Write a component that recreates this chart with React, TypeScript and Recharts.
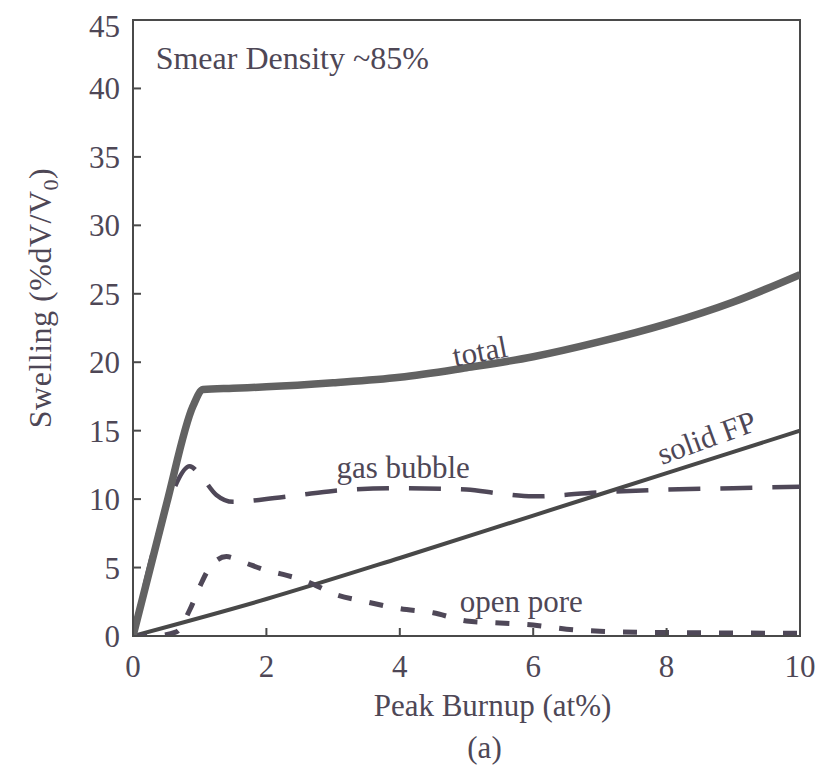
import React from 'react';
import { LineChart, Line, XAxis, YAxis, ReferenceArea, ReferenceDot, Label } from 'recharts';

const xTicks = [0, 2, 4, 6, 8, 10];
const yTicks = [0, 5, 10, 15, 20, 25, 30, 35, 40, 45];

const totalBurnup = [0, 0.5, 0.9, 1.05, 1.5, 2, 3, 4, 5, 6, 7, 8, 9, 10];
const totalSwelling = [0, 9.6, 16.8, 18.0, 18.1, 18.2, 18.5, 18.9, 19.6, 20.4, 21.5, 22.8, 24.4, 26.4];

const gasBurnup = [0, 0.55, 0.85, 1.0, 1.25, 1.5, 2.0, 2.5, 3.0, 4.0, 5.0, 5.5, 6.0, 7.0, 8.0, 9.0, 10.0];
const gasSwelling = [0, 10.0, 12.4, 11.8, 10.3, 9.8, 10.0, 10.3, 10.6, 10.8, 10.7, 10.4, 10.2, 10.5, 10.7, 10.8, 10.9];

const poreBurnup = [0, 0.3, 0.65, 0.85, 1.0, 1.15, 1.4, 1.65, 2.0, 2.25, 2.6, 3.0, 3.5, 4.0, 4.5, 5.0, 5.5, 6.0, 6.5, 7.0, 8.0, 10.0];
const poreSwelling = [0, 0, 0.3, 1.9, 3.6, 5.0, 5.8, 5.4, 4.8, 4.5, 4.0, 3.1, 2.5, 2.0, 1.7, 1.1, 0.95, 0.8, 0.5, 0.35, 0.25, 0.2];

const solidBurnup = [0, 2, 4, 6, 8, 10];
const solidSwelling = [0, 2.7, 5.7, 8.8, 11.9, 15.0];

const toPoints = (xs: number[], ys: number[]) => xs.map((x, i) => ({ x, y: ys[i] }));

const totalData = toPoints(totalBurnup, totalSwelling);
const gasData = toPoints(gasBurnup, gasSwelling);
const poreData = toPoints(poreBurnup, poreSwelling);
const solidData = toPoints(solidBurnup, solidSwelling);

const annotationTexts = ['total', 'gas bubble', 'solid FP', 'open pore', 'Smear Density ~85%'];
const annotationX = [5.2, 4.05, 8.6, 5.82, 0.34];
const annotationY = [20.8, 12.3, 14.5, 2.55, 41.4];
const annotationAngle = [-11, 0, -20, 0, 0];

const FONT = '"Liberation Serif", "Times New Roman", serif';
const TEXT = '#4e4756';
const AXIS = '#4a4a4a';

const YLabel = (props: any) => {
  const vb = props.viewBox || {};
  const cx = (vb.x ?? 0) + 43;
  const cy = (vb.y ?? 0) + (vb.height ?? 0) / 2 - 30;
  return (
    <text
      x={cx}
      y={cy}
      transform={`rotate(-90 ${cx} ${cy})`}
      textAnchor="middle"
      fontFamily={FONT}
      fontSize={32}
      letterSpacing={0.5}
      fill={TEXT}
    >
      Swelling (%dV/V
      <tspan fontSize={22} dy={7}>0</tspan>
      <tspan dy={-7}>)</tspan>
    </text>
  );
};

const XLabel = (props: any) => {
  const vb = props.viewBox || {};
  const cx = (vb.x ?? 0) + (vb.width ?? 0) / 2;
  const top = vb.y ?? 0;
  return (
    <g>
      <text x={cx + 26} y={top + 80} textAnchor="middle" fontFamily={FONT} fontSize={31} fill={TEXT}>
        Peak Burnup (at%)
      </text>
      <text x={cx + 18} y={top + 122} textAnchor="middle" fontFamily={FONT} fontSize={31} fill={TEXT}>
        (a)
      </text>
    </g>
  );
};

const makeAnnotation = (i: number) => (p: any) => {
  const { cx, cy } = p;
  const isStart = i === 4;
  return (
    <text
      x={cx}
      y={cy}
      transform={annotationAngle[i] ? `rotate(${annotationAngle[i]} ${cx} ${cy})` : undefined}
      textAnchor={isStart ? 'start' : 'middle'}
      dominantBaseline={isStart ? 'alphabetic' : 'central'}
      fontFamily={FONT}
      fontSize={isStart ? 32 : 31}
      fill={TEXT}
    >
      {annotationTexts[i]}
    </text>
  );
};

export default function App() {
  return (
    <LineChart width={816} height={764} margin={{ top: 12, right: 24, left: 0, bottom: 76 }}>
      <ReferenceArea x1={0} x2={10} y1={0} y2={45} fill="none" stroke={AXIS} strokeWidth={2} ifOverflow="visible" />
      <XAxis
        type="number"
        dataKey="x"
        domain={[0, 10]}
        ticks={xTicks}
        allowDataOverflow
        height={60}
        tickSize={-8}
        tickMargin={27}
        stroke={AXIS}
        strokeWidth={2}
        tick={{ fontFamily: FONT, fontSize: 31, fill: TEXT }}
        label={<Label content={XLabel} />}
      />
      <YAxis
        type="number"
        domain={[0, 45]}
        ticks={yTicks}
        allowDataOverflow
        width={125}
        tickSize={-8}
        tickMargin={21}
        stroke={AXIS}
        strokeWidth={2}
        tick={{ fontFamily: FONT, fontSize: 31, fill: TEXT }}
        label={<Label content={YLabel} />}
      />
      <Line data={solidData} dataKey="y" type="monotone" stroke="#484848" strokeWidth={4} dot={false} isAnimationActive={false} />
      <Line data={poreData} dataKey="y" type="monotone" stroke="#4f4858" strokeWidth={5} strokeDasharray="14 18" dot={false} isAnimationActive={false} />
      <Line data={gasData} dataKey="y" type="monotone" stroke="#4f4858" strokeWidth={4.5} strokeDasharray="32 20" dot={false} isAnimationActive={false} />
      <Line data={totalData} dataKey="y" type="monotone" stroke="#626262" strokeWidth={7.5} dot={false} isAnimationActive={false} />
      {annotationTexts.map((t, i) => (
        <ReferenceDot key={t} x={annotationX[i]} y={annotationY[i]} r={0} ifOverflow="visible" shape={makeAnnotation(i)} />
      ))}
    </LineChart>
  );
}
